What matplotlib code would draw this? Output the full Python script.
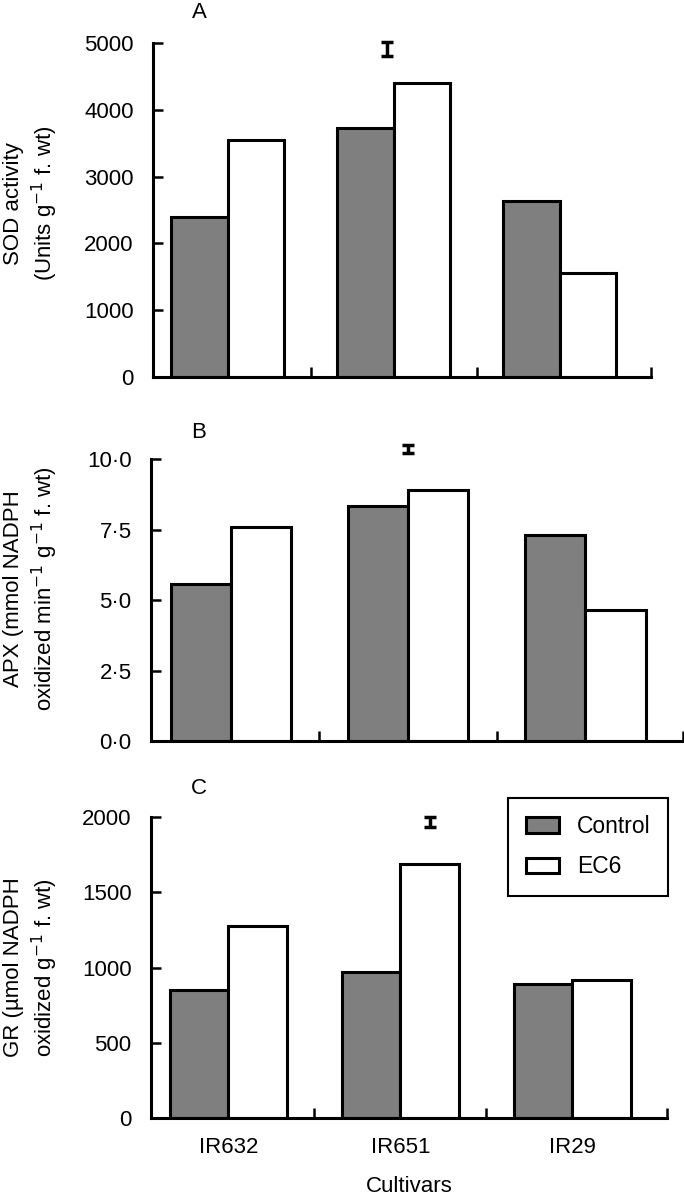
import numpy as np
import matplotlib
matplotlib.use("Agg")
import matplotlib.pyplot as plt
import matplotlib.transforms as mtransforms
from matplotlib.ticker import FuncFormatter

plt.rcParams["font.family"] = ["Liberation Sans", "DejaVu Sans"]
plt.rcParams["font.size"] = 16

# ─── data ──────────────────────────────────────────────────────────────────
cultivars = ["IR632", "IR651", "IR29"]
series = ["Control", "EC6"]

sod_control = [2400, 3730, 2630]
sod_ec6 = [3550, 4400, 1555]
sod_lsd = (4910, 105)      # centre, half-width of the LSD bar

apx_control = [5.58, 8.32, 7.30]
apx_ec6 = [7.58, 8.90, 4.64]
apx_lsd = (10.36, 0.14)

gr_control = [850, 970, 888]
gr_ec6 = [1275, 1688, 919]
gr_lsd = (1967, 33)

GREY = "#7f7f7f"
FIG_W, FIG_H = 684, 1200


def dot_fmt(v, pos):
    return f"{v:.1f}".replace(".", "\u00b7")


def panel(ax, ctrl, ec6, lsd, lsd_dx, ymax, ystep, ylabel, ylab_y, fmt=None):
    x = np.arange(len(ctrl)) + 0.45
    w = 0.34
    ax.bar(x - w / 2, ctrl, w, color=GREY, edgecolor="black", linewidth=2.2,
           label=series[0], zorder=2)
    ax.bar(x + w / 2, ec6, w, color="white", edgecolor="black", linewidth=2.2,
           label=series[1], zorder=2)
    ax.errorbar(x[1] + lsd_dx, lsd[0], yerr=lsd[1], fmt="none", ecolor="black",
                elinewidth=2.5, capsize=4.5, capthick=2.5, clip_on=False)

    ax.set_xlim(0, 3)
    ax.set_ylim(0, ymax)
    ax.set_yticks(np.arange(0, ymax + ystep / 2, ystep))
    if fmt is not None:
        ax.yaxis.set_major_formatter(FuncFormatter(fmt))
    ax.set_xticks([0.95, 1.95, 3.0], minor=True)
    ax.set_xticks(x)
    ax.set_xticklabels([])
    ax.tick_params(axis="x", which="major", length=0, pad=14)
    ax.tick_params(axis="x", which="minor", direction="in", length=7, width=1.8)
    ax.tick_params(axis="y", direction="in", length=7, width=1.8, pad=14)

    for s in ("top", "right"):
        ax.spines[s].set_visible(False)
    for s in ("left", "bottom"):
        ax.spines[s].set_linewidth(2.2)

    ax.set_ylabel(ylabel, fontsize=16, linespacing=1.25)
    tr = mtransforms.blended_transform_factory(ax.figure.transFigure, ax.transAxes)
    ax.yaxis.set_label_coords(60 / FIG_W, ylab_y, transform=tr)


fig = plt.figure(figsize=(6.84, 12), dpi=100)


def px_axes(left, right, top, bottom):
    return fig.add_axes([left / FIG_W, 1 - bottom / FIG_H,
                         (right - left) / FIG_W, (bottom - top) / FIG_H])


ax_a = px_axes(153, 651, 43, 377)
ax_b = px_axes(151, 683, 459, 741)
ax_c = px_axes(151, 667, 817, 1118)

panel(ax_a, sod_control, sod_ec6, sod_lsd, -0.04, 5000, 1000,
      "SOD activity\n(Units g$^{-1}$ f. wt)", 0.52)
panel(ax_b, apx_control, apx_ec6, apx_lsd, 0.0, 10, 2.5,
      "APX (mmol NADPH\noxidized min$^{-1}$ g$^{-1}$ f. wt)", 0.54, fmt=dot_fmt)
panel(ax_c, gr_control, gr_ec6, gr_lsd, 0.17, 2000, 500,
      "GR (\u00b5mol NADPH\noxidized g$^{-1}$ f. wt)", 0.5)

for letter, ypx in (("A", 13), ("B", 432), ("C", 788)):
    fig.text(199 / FIG_W, 1 - ypx / FIG_H, letter, fontsize=16,
             ha="center", va="center")

ax_c.set_xticklabels(cultivars)
ax_c.set_xlabel("Cultivars", fontsize=16, labelpad=13)

handles, labels = ax_c.get_legend_handles_labels()
leg = fig.legend(handles, labels, loc="upper right",
                 bbox_to_anchor=(668 / FIG_W, 1 - 798 / FIG_H), fontsize=16.5,
                 fancybox=False, edgecolor="black", framealpha=1,
                 handlelength=1.45, handleheight=0.65, borderpad=0.75,
                 labelspacing=0.75, handletextpad=0.8, borderaxespad=0)
leg.get_frame().set_linewidth(1.5)

fig.savefig("out.png", dpi=100)
